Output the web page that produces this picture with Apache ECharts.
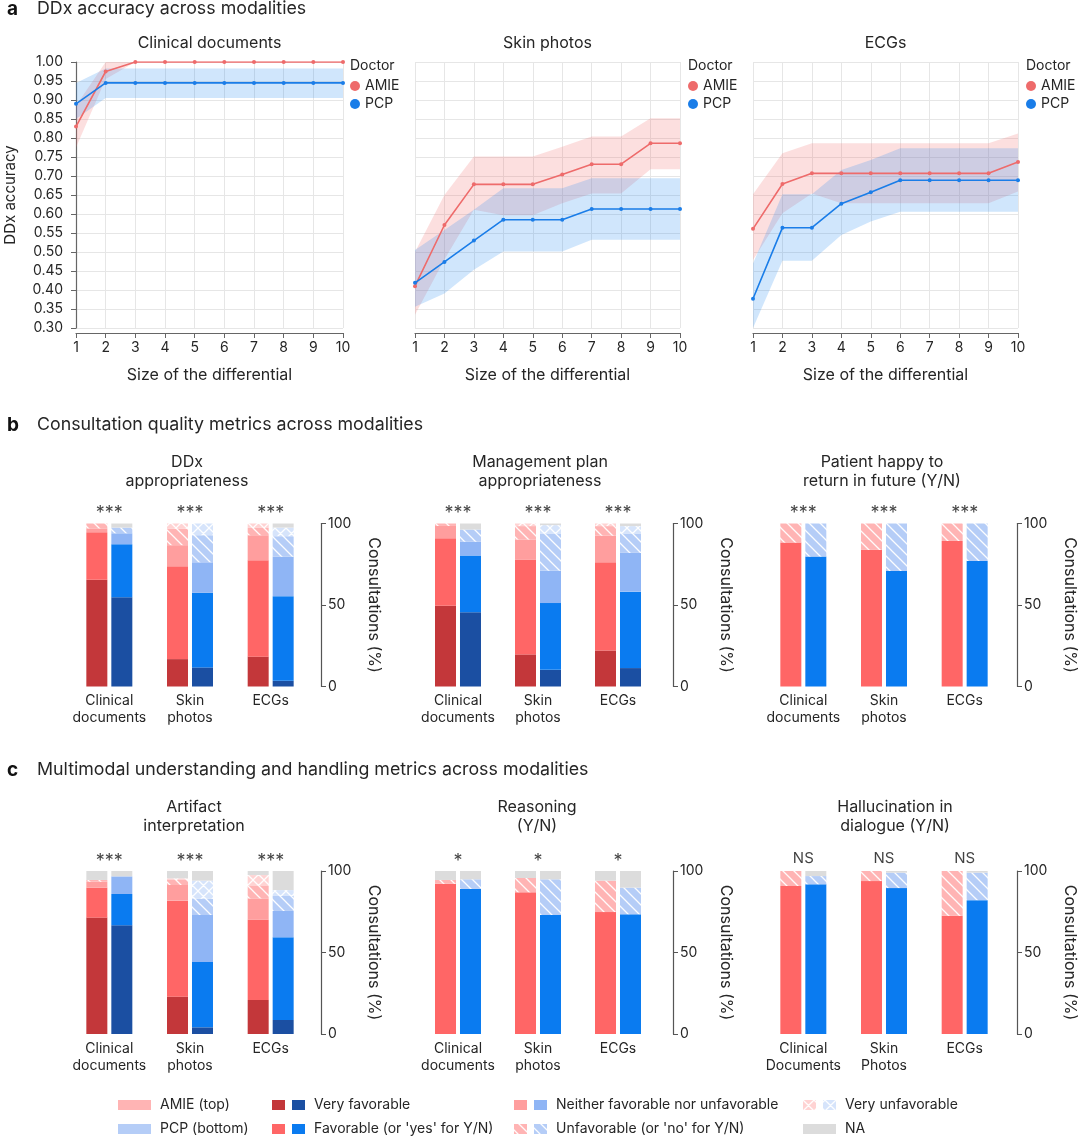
<!DOCTYPE html>
<html>
<head>
<meta charset="utf-8">
<script src="https://cdn.jsdelivr.net/npm/echarts@6/dist/echarts.min.js"></script>
<style>
  html, body { margin: 0; padding: 0; background: #fff; }
  #chart { width: 1080px; height: 1137px; }
</style>
</head>
<body>
<div id="chart"></div>
<script>
// ---- a: DDx accuracy vs size of differential
var diffSizes = ['1', '2', '3', '4', '5', '6', '7', '8', '9', '10'];

var clinAmie   = [0.83, 0.975, 1, 1, 1, 1, 1, 1, 1, 1];
var clinAmieLo = [0.775, 0.955, 1, 1, 1, 1, 1, 1, 1, 1];
var clinAmieHi = [0.885, 1, 1, 1, 1, 1, 1, 1, 1, 1];
var clinPcp    = [0.89, 0.945, 0.945, 0.945, 0.945, 0.945, 0.945, 0.945, 0.945, 0.945];
var clinPcpLo  = [0.85, 0.905, 0.905, 0.905, 0.905, 0.905, 0.905, 0.905, 0.905, 0.905];
var clinPcpHi  = [0.945, 0.983, 0.983, 0.983, 0.983, 0.983, 0.983, 0.983, 0.983, 0.983];

var skinAmie   = [0.41, 0.571, 0.678, 0.678, 0.678, 0.704, 0.731, 0.731, 0.786, 0.786];
var skinAmieLo = [0.335, 0.48, 0.611, 0.597, 0.597, 0.628, 0.654, 0.654, 0.718, 0.718];
var skinAmieHi = [0.50, 0.65, 0.751, 0.751, 0.751, 0.777, 0.804, 0.804, 0.852, 0.852];
var skinPcp    = [0.419, 0.474, 0.53, 0.585, 0.585, 0.585, 0.613, 0.613, 0.613, 0.613];
var skinPcpLo  = [0.356, 0.391, 0.453, 0.501, 0.501, 0.501, 0.532, 0.532, 0.532, 0.532];
var skinPcpHi  = [0.505, 0.558, 0.611, 0.668, 0.668, 0.668, 0.694, 0.694, 0.694, 0.694];

var ecgAmie    = [0.561, 0.679, 0.707, 0.707, 0.707, 0.707, 0.707, 0.707, 0.707, 0.737];
var ecgAmieLo  = [0.479, 0.602, 0.654, 0.628, 0.628, 0.628, 0.628, 0.628, 0.628, 0.659];
var ecgAmieHi  = [0.652, 0.76, 0.786, 0.786, 0.786, 0.786, 0.786, 0.786, 0.786, 0.812];
var ecgPcp     = [0.377, 0.564, 0.564, 0.627, 0.657, 0.689, 0.689, 0.689, 0.689, 0.689];
var ecgPcpLo   = [0.30, 0.477, 0.477, 0.545, 0.58, 0.606, 0.606, 0.606, 0.606, 0.606];
var ecgPcpHi   = [0.47, 0.652, 0.652, 0.716, 0.742, 0.773, 0.773, 0.773, 0.773, 0.773];

var accTicks = [0.3, 1.0, 0.05]; // min, max, step

// ---- b, c: rating bars (rows = clinical, skin, ECG; columns = levels, % of consultations)
var modalities = ['Clinical\ndocuments', 'Skin\nphotos', 'ECGs'];
var modalitiesCap = ['Clinical\nDocuments', 'Skin\nPhotos', 'ECGs'];
var scaleLevels = [0, 1, 2, 3, 4, 5];   // very fav, fav, neither, unfav, very unfav, NA
var ynLevels = [1, 3, 5];               // yes, no, NA

var ddxApprAmie = [[65.5, 29.2, 2.3, 3.0, 0, 0], [16.8, 56.9, 13.0, 10.2, 3.1, 0], [18.3, 59.1, 15.4, 4.5, 2.7, 0]];
var ddxApprPcp  = [[54.8, 32.5, 6.7, 3.5, 0, 2.5], [11.7, 45.8, 18.7, 16.6, 7.2, 0], [3.5, 51.9, 24.3, 12.5, 5.3, 2.5]];
var mgmtAmie    = [[49.6, 41.4, 7.5, 1.5, 0, 0], [19.7, 58.2, 12.3, 8.2, 1.6, 0], [22.1, 54.1, 16.4, 5.8, 1.6, 0]];
var mgmtPcp     = [[45.5, 34.8, 8.6, 7.4, 0, 3.7], [10.2, 41.0, 19.9, 22.5, 5.4, 1.0], [11.3, 46.9, 23.8, 11.6, 4.8, 1.6]];
var happyAmie   = [[88.3, 11.7, 0], [83.8, 16.2, 0], [89.3, 10.7, 0]];
var happyPcp    = [[79.7, 20.3, 0], [70.8, 29.2, 0], [77.0, 23.0, 0]];
var artifactAmie = [[71.4, 18.4, 3.7, 1.0, 0, 5.5], [22.9, 58.9, 9.6, 3.1, 1.0, 4.5], [20.9, 49.4, 12.9, 7.6, 6.7, 2.5]];
var artifactPcp  = [[66.7, 19.2, 10.8, 0, 0, 3.3], [4.1, 40.1, 28.8, 10.0, 11.1, 5.9], [8.6, 50.7, 16.2, 9.2, 3.6, 11.7]];
var reasonAmie  = [[92.2, 2.3, 5.5], [86.9, 8.8, 4.3], [74.8, 19.3, 5.9]];
var reasonPcp   = [[89.0, 5.9, 5.1], [73.0, 21.9, 5.1], [73.4, 16.4, 10.2]];
var halluAmie   = [[90.8, 9.2, 0], [93.8, 6.2, 0], [72.5, 27.5, 0]];
var halluPcp    = [[91.8, 5.1, 3.1], [89.5, 9.5, 1.0], [82.1, 16.9, 1.0]];

var sigDdx = ['***', '***', '***'];
var sigMgmt = ['***', '***', '***'];
var sigHappy = ['***', '***', '***'];
var sigArtifact = ['***', '***', '***'];
var sigReason = ['*', '*', '*'];
var sigHallu = ['NS', 'NS', 'NS'];

var pctTicks = [0, 100, 50];

// ---------------------------------------------------------------
var FONT = 'Inter';
var TXT = '#262626';
var AMIE_LINE = '#ee6b6b', PCP_LINE = '#1a7de8';
var AMIE_BAND = 'rgba(240,110,110,0.22)', PCP_BAND = 'rgba(40,140,240,0.22)';

function pattern(base, cross) {
  var n = 11;
  var c = document.createElement('canvas');
  c.width = c.height = n;
  var g = c.getContext('2d');
  g.fillStyle = base;
  g.fillRect(0, 0, n, n);
  g.strokeStyle = 'rgba(255,255,255,0.95)';
  g.lineWidth = 1.3;
  g.beginPath();
  g.moveTo(-1, -1); g.lineTo(n + 1, n + 1);
  g.moveTo(n - 2, -2); g.lineTo(n + 2, 2);
  g.moveTo(-2, n - 2); g.lineTo(2, n + 2);
  if (cross) {
    g.moveTo(-1, n + 1); g.lineTo(n + 1, -1);
    g.moveTo(-2, 2); g.lineTo(2, -2);
    g.moveTo(n - 2, n + 2); g.lineTo(n + 2, n - 2);
  }
  g.stroke();
  return { image: c, repeat: 'repeat' };
}

var amieColors = ['#c3373a', '#ff6666', '#ff9e9e', pattern('#ffb4b4', false), pattern('#ffd3d3', true), '#dcdcdc'];
var pcpColors  = ['#1b4fa2', '#0a7bf0', '#8fb5f5', pattern('#b5cdf7', false), pattern('#d6e4fb', true), '#dcdcdc'];

var chart = echarts.init(document.getElementById('chart'));

var grids = [], xAxes = [], yAxes = [], series = [], legends = [], graphics = [];

// ---- panel a
var linePanels = [
  { title: 'Clinical documents', left: 76, width: 267, legendLeft: 350, yLabels: true,
    amie: clinAmie, amieLo: clinAmieLo, amieHi: clinAmieHi, pcp: clinPcp, pcpLo: clinPcpLo, pcpHi: clinPcpHi },
  { title: 'Skin photos', left: 415, width: 265, legendLeft: 688, yLabels: false,
    amie: skinAmie, amieLo: skinAmieLo, amieHi: skinAmieHi, pcp: skinPcp, pcpLo: skinPcpLo, pcpHi: skinPcpHi },
  { title: 'ECGs', left: 753, width: 265, legendLeft: 1026, yLabels: false,
    amie: ecgAmie, amieLo: ecgAmieLo, amieHi: ecgAmieHi, pcp: ecgPcp, pcpLo: ecgPcpLo, pcpHi: ecgPcpHi }
];

linePanels.forEach(function (p, i) {
  grids.push({ left: p.left, top: 62, width: p.width, height: 266, containLabel: false });
  xAxes.push({
    gridIndex: i, type: 'category', data: diffSizes, boundaryGap: false, offset: 5,
    axisLine: { show: true, lineStyle: { color: '#666', width: 1.2 } },
    axisTick: { show: true, length: 5, interval: 0, lineStyle: { color: '#666' } },
    axisLabel: { fontSize: 14, color: TXT, margin: 8, interval: 0 },
    splitLine: { show: true, interval: 0, lineStyle: { color: '#e6e6e6' } },
    name: 'Size of the differential', nameLocation: 'middle', nameGap: 34,
    nameTextStyle: { fontSize: 16, color: TXT }
  });
  yAxes.push({
    gridIndex: i, type: 'value', min: accTicks[0], max: accTicks[1], interval: accTicks[2],
    axisLine: { show: p.yLabels, lineStyle: { color: '#666', width: 1.2 } },
    axisTick: { show: p.yLabels, length: 5, lineStyle: { color: '#666' } },
    axisLabel: { show: p.yLabels, fontSize: 14, color: TXT, margin: 13,
      formatter: function (v) { return v.toFixed(2); } },
    splitLine: { show: true, lineStyle: { color: '#e6e6e6' } },
    name: p.yLabels ? 'DDx accuracy' : '', nameLocation: 'middle', nameGap: 58,
    nameTextStyle: { fontSize: 15, color: TXT }
  });
  [['AMIE', p.amie, p.amieLo, p.amieHi, AMIE_LINE, AMIE_BAND],
   ['PCP', p.pcp, p.pcpLo, p.pcpHi, PCP_LINE, PCP_BAND]].forEach(function (d) {
    var stackId = 'ci' + i + d[0];
    series.push({
      type: 'line', name: d[0] + ' CI low', xAxisIndex: i, yAxisIndex: i, stack: stackId,
      data: d[2], symbol: 'none', lineStyle: { opacity: 0 }, silent: true, z: 1
    });
    series.push({
      type: 'line', name: d[0] + ' CI', xAxisIndex: i, yAxisIndex: i, stack: stackId,
      data: d[3].map(function (v, k) { return +(v - d[2][k]).toFixed(4); }),
      symbol: 'none', lineStyle: { opacity: 0 }, areaStyle: { color: d[5], opacity: 1 },
      silent: true, z: 1
    });
  });
  [['AMIE', p.amie, AMIE_LINE], ['PCP', p.pcp, PCP_LINE]].forEach(function (d) {
    series.push({
      type: 'line', name: d[0], xAxisIndex: i, yAxisIndex: i, data: d[1],
      symbol: 'circle', symbolSize: 4, showSymbol: true,
      lineStyle: { color: d[2], width: 1.6 }, itemStyle: { color: d[2] },
      silent: true, z: 3
    });
  });
  legends.push({
    data: ['AMIE', 'PCP'], orient: 'vertical', left: p.legendLeft, top: 79,
    icon: 'circle', itemWidth: 10, itemHeight: 10, itemGap: 4, padding: 0,
    selectedMode: false, textStyle: { fontSize: 14, color: TXT, fontFamily: FONT }
  });
  graphics.push({ type: 'text', x: p.legendLeft, y: 66,
    style: { text: 'Doctor', fontSize: 14, fill: TXT, fontFamily: FONT, verticalAlign: 'middle' } });
  graphics.push({ type: 'text', x: p.left + p.width / 2, y: 43,
    style: { text: p.title, fontSize: 16, fill: TXT, fontFamily: FONT, align: 'center', verticalAlign: 'middle' } });
});

// ---- panels b and c
var barPanels = [
  { title: 'DDx\nappropriateness', tx: 187, ty: 472, left: 69, top: 523.5, width: 242, axisOff: 10,
    amie: ddxApprAmie, pcp: ddxApprPcp, levels: scaleLevels, sig: sigDdx, cats: modalities },
  { title: 'Management plan\nappropriateness', tx: 540, ty: 472, left: 418, top: 523.5, width: 240, axisOff: 15,
    amie: mgmtAmie, pcp: mgmtPcp, levels: scaleLevels, sig: sigMgmt, cats: modalities },
  { title: 'Patient happy to\nreturn in future (Y/N)', tx: 882, ty: 472, left: 763, top: 523.5, width: 242, axisOff: 12,
    amie: happyAmie, pcp: happyPcp, levels: ynLevels, sig: sigHappy, cats: modalities },
  { title: 'Artifact\ninterpretation', tx: 194, ty: 817, left: 69, top: 871, width: 242, axisOff: 10,
    amie: artifactAmie, pcp: artifactPcp, levels: scaleLevels, sig: sigArtifact, cats: modalities },
  { title: 'Reasoning\n(Y/N)', tx: 537, ty: 817, left: 418, top: 871, width: 240, axisOff: 15,
    amie: reasonAmie, pcp: reasonPcp, levels: ynLevels, sig: sigReason, cats: modalities },
  { title: 'Hallucination in\ndialogue (Y/N)', tx: 895, ty: 817, left: 763, top: 871, width: 242, axisOff: 12,
    amie: halluAmie, pcp: halluPcp, levels: ynLevels, sig: sigHallu, cats: modalitiesCap }
];

barPanels.forEach(function (p, j) {
  var gi = j + 3;
  grids.push({ left: p.left, top: p.top, width: p.width, height: 163, containLabel: false });
  xAxes.push({
    gridIndex: gi, type: 'category', data: p.cats,
    axisLine: { show: false }, axisTick: { show: false },
    axisLabel: { fontSize: 14, color: TXT, lineHeight: 17, margin: 6, interval: 0 }
  });
  yAxes.push({
    gridIndex: gi, type: 'value', position: 'right', offset: p.axisOff,
    min: pctTicks[0], max: pctTicks[1], interval: pctTicks[2],
    axisLine: { show: true, lineStyle: { color: '#555', width: 1.2 } },
    axisTick: { show: true, length: 5, lineStyle: { color: '#555' } },
    axisLabel: { fontSize: 14, color: TXT, margin: 7 },
    splitLine: { show: false },
    name: 'Consultations (%)', nameLocation: 'middle', nameRotate: -90, nameGap: 45,
    nameTextStyle: { fontSize: 16, color: TXT }
  });
  [['AMIE', p.amie, amieColors], ['PCP', p.pcp, pcpColors]].forEach(function (d) {
    p.levels.forEach(function (lvl, k) {
      series.push({
        type: 'bar', name: d[0] + ' level ' + lvl, xAxisIndex: gi, yAxisIndex: gi,
        stack: 'bar' + gi + d[0], barWidth: 21, barGap: '19%',
        data: d[1].map(function (row) { return row[k]; }),
        itemStyle: { color: d[2][lvl] }, silent: true
      });
    });
  });
  var isNs = p.sig[0] === 'NS';
  series.push({
    type: 'scatter', name: 'sig' + gi, xAxisIndex: gi, yAxisIndex: gi,
    data: p.cats.map(function () { return pctTicks[1]; }),
    symbolSize: 1, itemStyle: { color: 'rgba(0,0,0,0)' }, silent: true, z: 5,
    label: { show: true, position: 'top', distance: isNs ? 5 : 0,
      fontSize: isNs ? 15 : 18, color: '#111',
      formatter: function (q) { return p.sig[q.dataIndex]; } }
  });
  graphics.push({ type: 'text', x: p.tx, y: p.ty,
    style: { text: p.title, fontSize: 16, lineHeight: 19, fill: TXT, fontFamily: FONT,
      align: 'center', verticalAlign: 'middle' } });
});

// ---- section headings
[['a', 'DDx accuracy across modalities', 9],
 ['b', 'Consultation quality metrics across modalities', 425],
 ['c', 'Multimodal understanding and handling metrics across modalities', 770]].forEach(function (h) {
  graphics.push({ type: 'text', x: 7, y: h[2],
    style: { text: h[0], fontSize: 19, fontWeight: 'bold', fill: '#111', fontFamily: FONT, verticalAlign: 'middle' } });
  graphics.push({ type: 'text', x: 37, y: h[2],
    style: { text: h[1], fontSize: 17.8, fill: TXT, fontFamily: FONT, verticalAlign: 'middle' } });
});

// ---- bottom legend
function sw(x, y, w, fill) {
  graphics.push({ type: 'rect', shape: { x: x, y: y - 5, width: w, height: 10 }, style: { fill: fill } });
}
function lt(x, y, t) {
  graphics.push({ type: 'text', x: x, y: y,
    style: { text: t, fontSize: 14, fill: TXT, fontFamily: FONT, verticalAlign: 'middle' } });
}
var r1 = 1105, r2 = 1129;
sw(118, r1, 33, '#ffb4b4'); lt(160, r1, 'AMIE (top)');
sw(118, r2, 33, '#b5cdf7'); lt(160, r2, 'PCP (bottom)');
sw(272, r1, 13, amieColors[0]); sw(292, r1, 13, pcpColors[0]); lt(314, r1, 'Very favorable');
sw(272, r2, 13, amieColors[1]); sw(292, r2, 13, pcpColors[1]); lt(314, r2, "Favorable (or 'yes' for Y/N)");
sw(514, r1, 13, amieColors[2]); sw(534, r1, 13, pcpColors[2]); lt(556, r1, 'Neither favorable nor unfavorable');
sw(514, r2, 13, amieColors[3]); sw(534, r2, 13, pcpColors[3]); lt(556, r2, "Unfavorable (or 'no' for Y/N)");
sw(803, r1, 13, amieColors[4]); sw(823, r1, 13, pcpColors[4]); lt(845, r1, 'Very unfavorable');
sw(803, r2, 33, '#dcdcdc'); lt(845, r2, 'NA');

chart.setOption({
  animation: false,
  textStyle: { fontFamily: FONT },
  grid: grids,
  xAxis: xAxes,
  yAxis: yAxes,
  legend: legends,
  series: series,
  graphic: { elements: graphics }
});
</script>
</body>
</html>
